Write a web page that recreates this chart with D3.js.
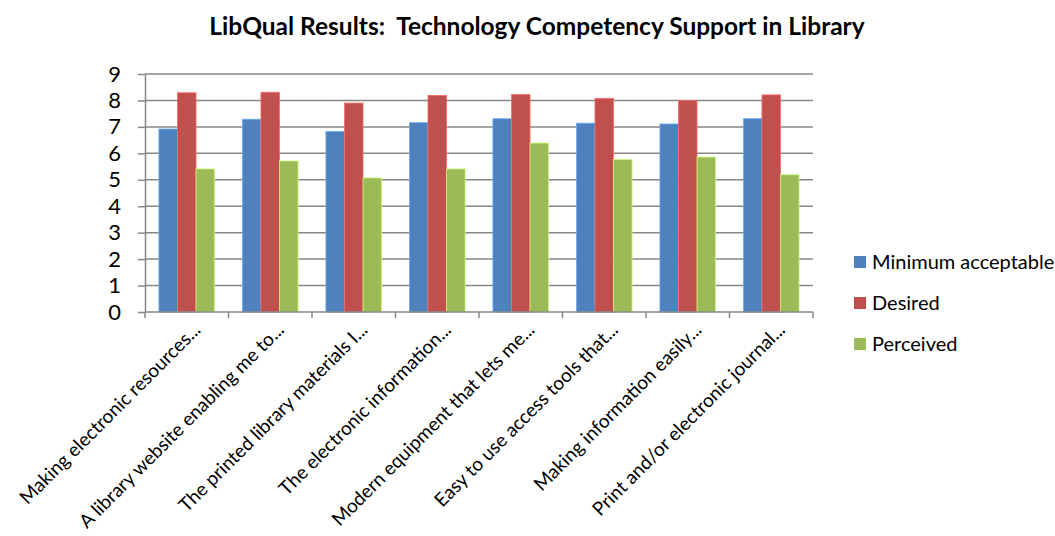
<!DOCTYPE html>
<html>
<head>
<meta charset="utf-8">
<script src="https://cdn.jsdelivr.net/npm/d3@7"></script>
<style>
    body { margin: 0; background: #fff; }
    svg { display: block; font-family: Lato, "Open Sans", sans-serif; }
</style>
</head>
<body>
<div id="chart"></div>
<script>
// data
const categories = [
    'Making electronic resources...',
    'A library website enabling me to...',
    'The printed library materials I...',
    'The electronic information...',
    'Modern equipment that lets me...',
    'Easy to use access tools that...',
    'Making information easily...',
    'Print and/or electronic journal...'
];
const seriesNames = ['Minimum acceptable', 'Desired', 'Perceived'];
const minimumValues = [6.92, 7.29, 6.83, 7.16, 7.31, 7.14, 7.11, 7.31];
const desiredValues = [8.29, 8.31, 7.90, 8.19, 8.22, 8.08, 7.99, 8.21];
const perceivedValues = [5.41, 5.71, 5.07, 5.41, 6.39, 5.77, 5.86, 5.19];
const yTicks = [0, 1, 2, 3, 4, 5, 6, 7, 8, 9];
const colors = ['#4F81BD', '#C0504D', '#9BBB59'];

const seriesValues = [minimumValues, desiredValues, perceivedValues];

const width = 1055, height = 536;
const plot = {left: 145, right: 813, top: 74, bottom: 312};
const gridColor = '#878787';

const svg = d3.select('#chart').append('svg')
    .attr('width', width)
    .attr('height', height);

// 标题
svg.append('text')
    .attr('x', 537)
    .attr('y', 35)
    .attr('text-anchor', 'middle')
    .attr('font-size', 24.5)
    .attr('font-weight', 'bold')
    .text('LibQual Results:\u00a0\u00a0Technology Competency Support in Library');

const x0 = d3.scaleBand()
    .domain(categories)
    .range([plot.left, plot.right])
    .padding(0);

const x1 = d3.scaleBand()
    .domain(seriesNames)
    .range([0, x0.bandwidth()])
    .paddingInner(0)
    .paddingOuter(0.75);

const y = d3.scaleLinear()
    .domain([0, 9])
    .range([plot.bottom, plot.top]);

// 网格线
svg.append('g')
    .selectAll('line')
    .data(yTicks.filter(d => d > 0))
    .enter()
    .append('line')
    .attr('x1', plot.left)
    .attr('x2', plot.right)
    .attr('y1', d => y(d))
    .attr('y2', d => y(d))
    .attr('stroke', gridColor)
    .attr('stroke-width', 1.5);

// y 轴
const yAxis = svg.append('g')
    .attr('transform', `translate(${plot.left},0)`)
    .call(d3.axisLeft(y).tickValues(yTicks).tickSize(7).tickPadding(17).tickSizeOuter(0));
yAxis.select('.domain').attr('stroke', gridColor).attr('stroke-width', 1.5);
yAxis.selectAll('.tick line').attr('stroke', gridColor).attr('stroke-width', 1.5);
yAxis.selectAll('.tick text')
    .attr('font-family', 'Lato, sans-serif')
    .attr('font-size', 22)
    .attr('fill', '#000');

// 柱子
const groups = svg.append('g')
    .selectAll('g')
    .data(categories)
    .enter()
    .append('g')
    .attr('transform', d => `translate(${x0(d)},0)`);

groups.selectAll('rect')
    .data((d, i) => seriesNames.map((s, j) => ({series: s, value: seriesValues[j][i], color: colors[j]})))
    .enter()
    .append('rect')
    .attr('x', d => x1(d.series))
    .attr('width', x1.bandwidth())
    .attr('y', d => y(d.value))
    .attr('height', d => y(0) - y(d.value))
    .attr('fill', d => d.color)
    .attr('stroke', d => d3.color(d.color).brighter(0.8))
    .attr('stroke-width', 0.8);

// x 轴
const xAxis = svg.append('g')
    .attr('transform', `translate(0,${plot.bottom})`);
xAxis.append('line')
    .attr('x1', plot.left)
    .attr('x2', plot.right)
    .attr('stroke', gridColor)
    .attr('stroke-width', 1.5);
const boundaries = categories.map(c => x0(c)).concat([plot.right]);
xAxis.selectAll('.xtick')
    .data(boundaries)
    .enter()
    .append('line')
    .attr('x1', d => d)
    .attr('x2', d => d)
    .attr('y1', 0)
    .attr('y2', 6)
    .attr('stroke', gridColor)
    .attr('stroke-width', 1.5);

xAxis.selectAll('.xlabel')
    .data(categories)
    .enter()
    .append('text')
    .attr('transform', d => `translate(${x0(d) + x0.bandwidth() / 2 + 15},19) rotate(-45)`)
    .attr('text-anchor', 'end')
    .attr('font-size', 19)
    .text(d => d);

// 图例
const legend = svg.append('g')
    .selectAll('g')
    .data(seriesNames)
    .enter()
    .append('g')
    .attr('transform', (d, i) => `translate(854,${262 + i * 41})`);
legend.append('rect')
    .attr('x', 0)
    .attr('y', -6)
    .attr('width', 12)
    .attr('height', 12)
    .attr('fill', (d, i) => colors[i]);
legend.append('text')
    .attr('x', 18)
    .attr('y', 0)
    .attr('dy', '0.35em')
    .attr('font-size', 20)
    .text(d => d);
</script>
</body>
</html>
